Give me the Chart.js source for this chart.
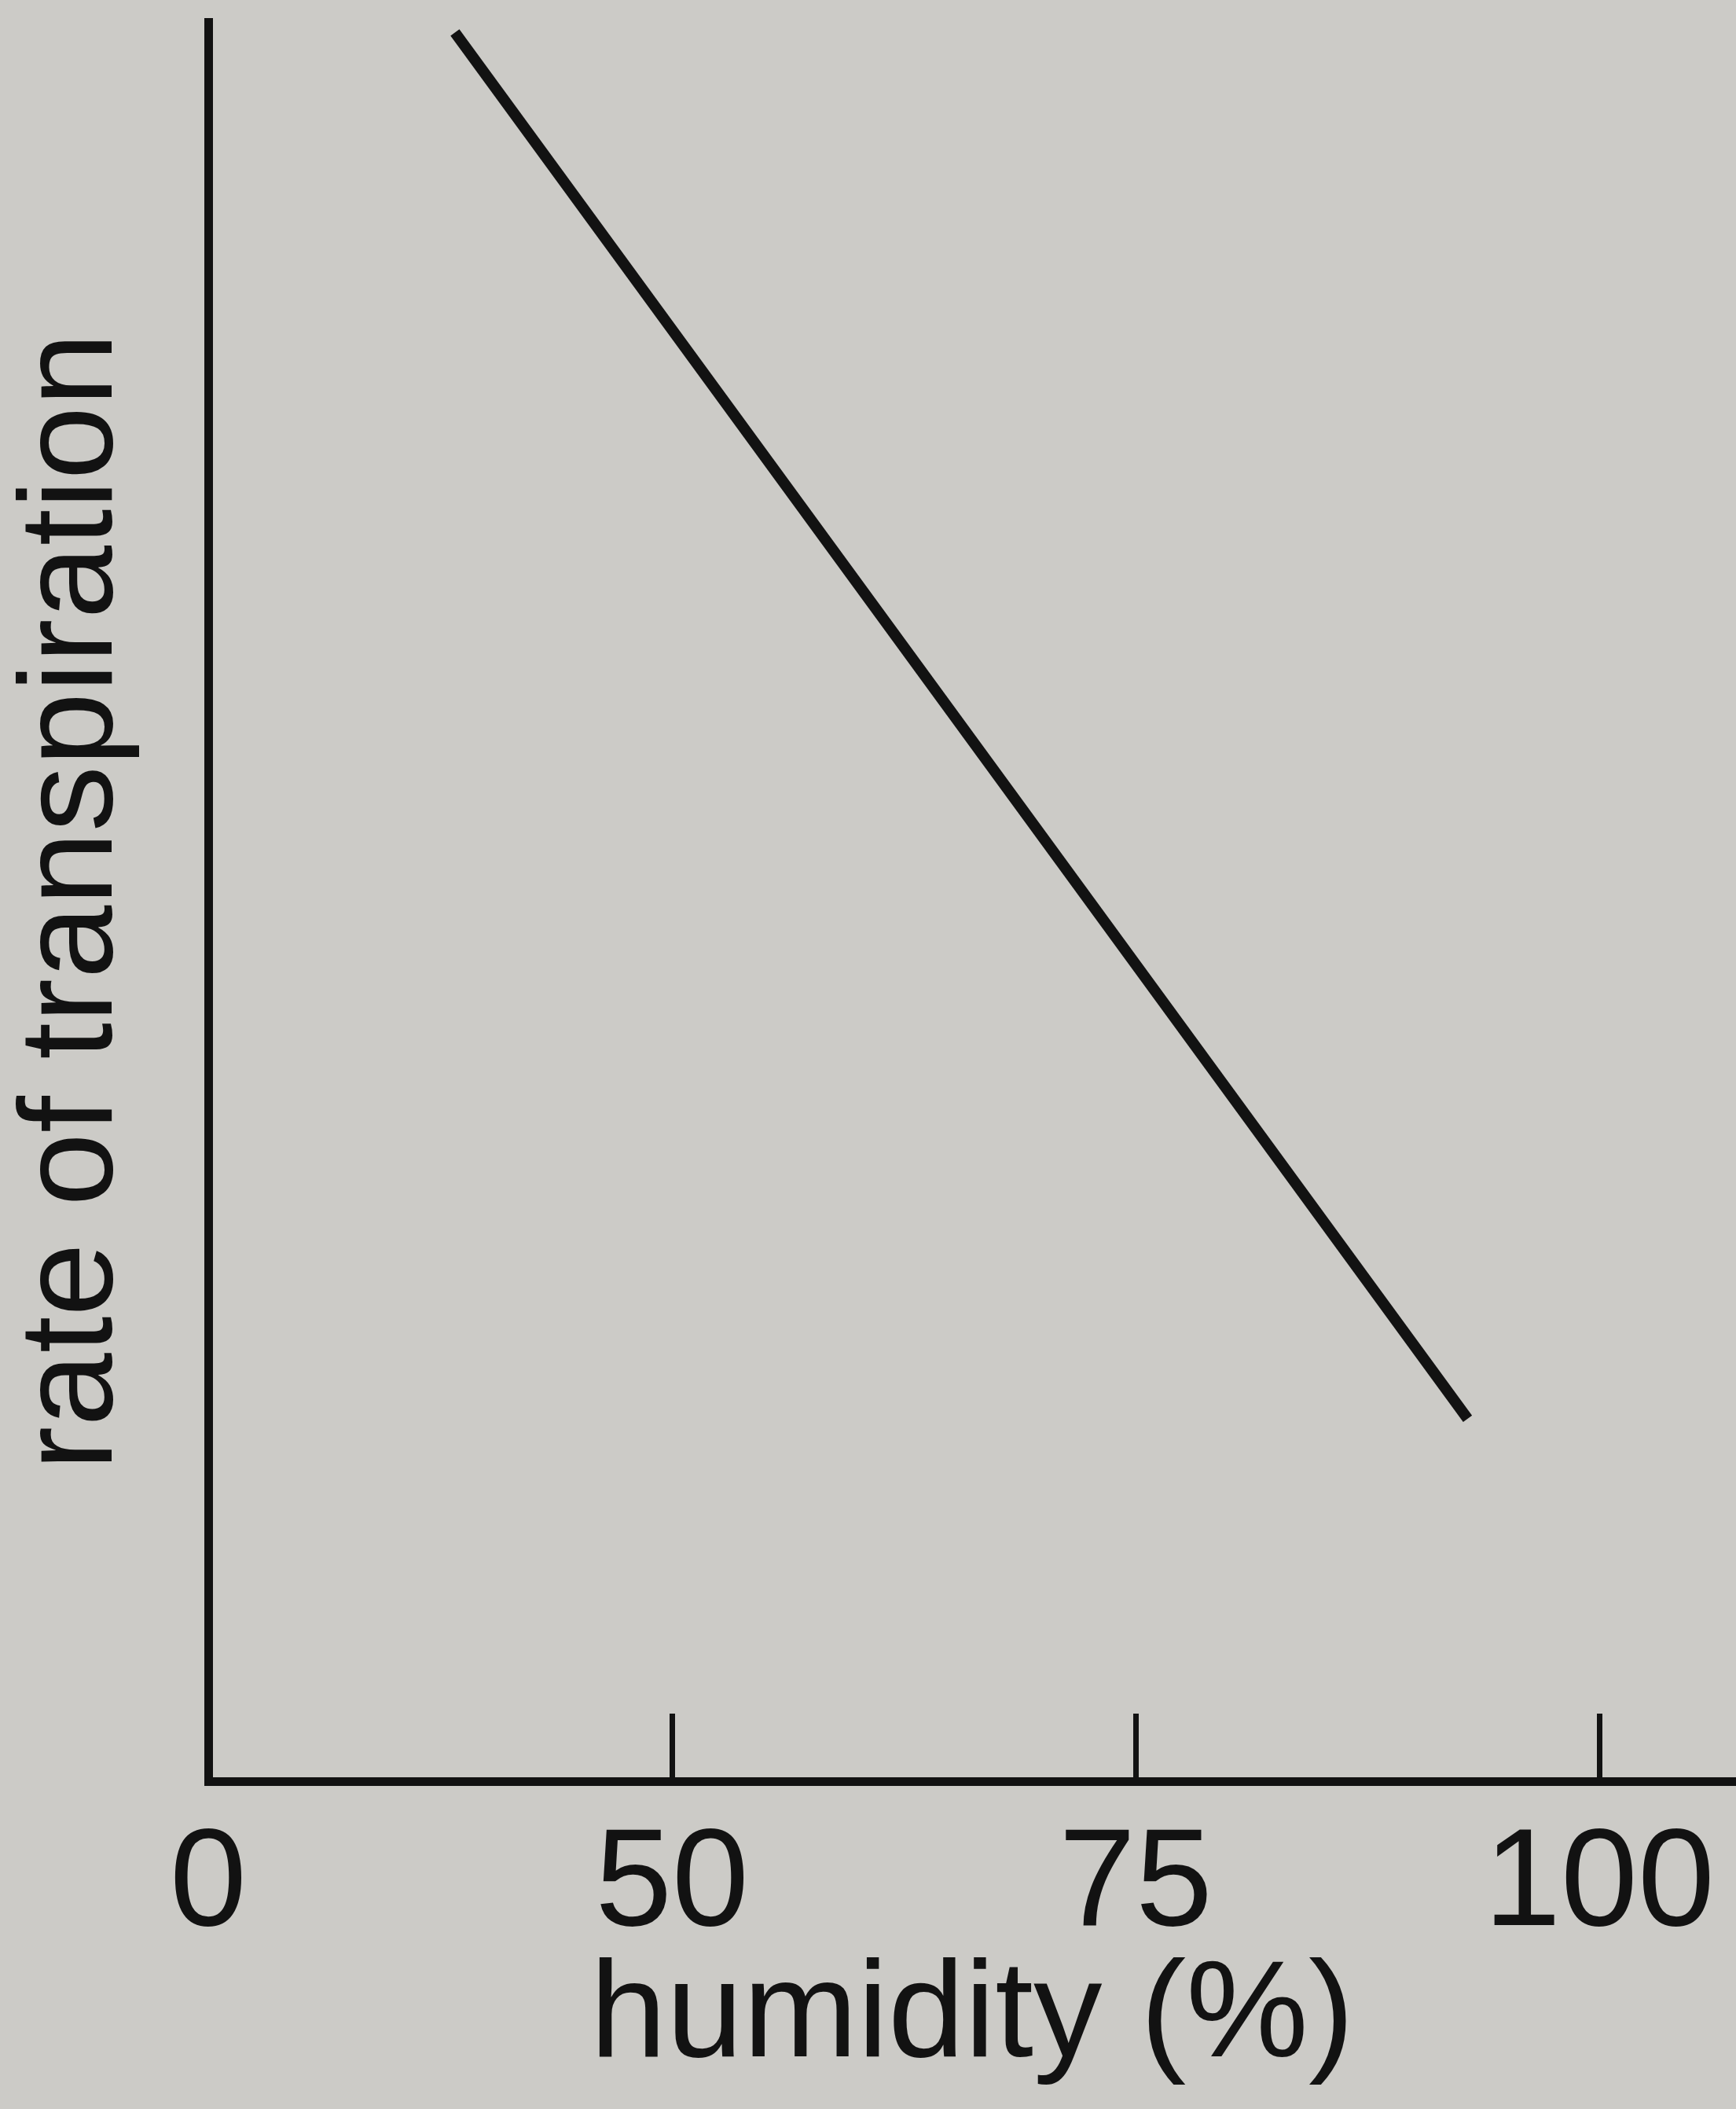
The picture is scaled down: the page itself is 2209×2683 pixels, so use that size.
<!DOCTYPE html>
<html>
<head>
<meta charset="utf-8">
<script src="https://cdn.jsdelivr.net/npm/chart.js@4.4.1/dist/chart.umd.min.js"></script>
<style>
  html, body { margin: 0; padding: 0; background: #cccbc7; }
  #wrap { width: 2209px; height: 2683px; }
</style>
</head>
<body>
<div id="wrap"><canvas id="chart" width="2209" height="2683"></canvas></div>
<script>
// humidity axis is broken: "0" sits where 25 would be
const tickValues = [25, 50, 75, 100];
const tickLabels = ["0", "50", "75", "100"];
const humidity = [38.3, 92.9];
const transpiration = [99.4, 20.6];

const ink = "#121212";
const fontFamily = "'Liberation Sans', Arial, Helvetica, sans-serif";

new Chart(document.getElementById("chart"), {
    type: "line",
    data: {
        datasets: [{
            data: humidity.map((h, i) => ({ x: h, y: transpiration[i] })),
            borderColor: ink,
            borderWidth: 14,
            pointRadius: 0,
            fill: false,
            tension: 0
        }]
    },
    options: {
        responsive: false,
        animation: false,
        layout: { padding: { top: 28, right: 0, bottom: 0, left: 0 } },
        plugins: { legend: { display: false }, tooltip: { enabled: false } },
        scales: {
            x: {
                type: "linear",
                min: 25,
                max: 107.37,
                afterBuildTicks: scale => { scale.ticks = tickValues.map(v => ({ value: v })); },
                afterFit: scale => {
                    // keep the plot reaching the page edge like the print
                    scale.height = 417;
                    scale.paddingLeft = 0;
                    scale.paddingRight = 0;
                },
                ticks: {
                    color: ink,
                    padding: 132,
                    autoSkip: false,
                    maxRotation: 0,
                    font: { family: fontFamily, size: 176, lineHeight: 1 },
                    callback: v => tickLabels[tickValues.indexOf(v)]
                },
                grid: {
                    display: true,
                    drawOnChartArea: false,
                    drawTicks: true,
                    tickLength: -86,
                    lineWidth: 7,
                    color: ctx => (ctx.tick && ctx.tick.value === 25) ? "rgba(0,0,0,0)" : ink
                },
                border: { display: true, color: ink, width: 11 },
                title: {
                    display: true,
                    text: "humidity (%)",
                    color: ink,
                    font: { family: fontFamily, size: 175, lineHeight: 1 },
                    padding: { top: 12.5, bottom: 27.5 }
                }
            },
            y: {
                min: 0,
                max: 100,
                afterFit: scale => { scale.width = 265; },
                ticks: { display: false },
                grid: { display: false },
                border: { display: true, color: ink, width: 11 },
                title: {
                    display: true,
                    text: "rate of transpiration",
                    color: ink,
                    font: { family: fontFamily, size: 168, lineHeight: 1 },
                    padding: { top: 12, bottom: 85 }
                }
            }
        }
    }
});
</script>
</body>
</html>
